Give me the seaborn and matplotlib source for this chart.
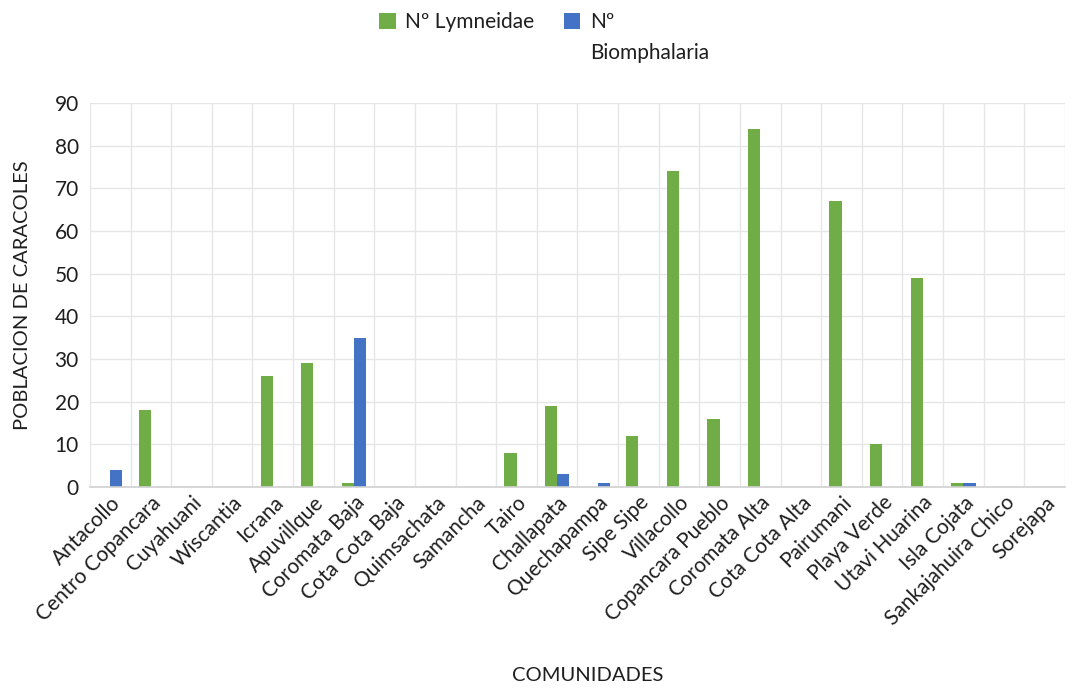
import matplotlib
matplotlib.use("Agg")
import matplotlib.pyplot as plt
import seaborn as sns
import pandas as pd
import numpy as np

comunidades = [
    "Antacollo", "Centro Copancara", "Cuyahuani", "Wiscantia", "Icrana",
    "Apuvillque", "Coromata Baja", "Cota Cota Baja", "Quimsachata", "Samancha",
    "Tairo", "Challapata", "Quechapampa", "Sipe Sipe", "Villacollo",
    "Copancara Pueblo", "Coromata Alta", "Cota Cota Alta", "Pairumani",
    "Playa Verde", "Utavi Huarina", "Isla Cojata", "Sankajahuira Chico", "Sorejapa",
]
lymneidae = [0, 18, 0, 0, 26, 29, 1, 0, 0, 0, 8, 19, 0, 12, 74, 16, 84, 0, 67, 10, 49, 1, 0, 0]
biomphalaria = [4, 0, 0, 0, 0, 0, 35, 0, 0, 0, 0, 3, 1, 0, 0, 0, 0, 0, 0, 0, 0, 1, 0, 0]
series_names = ["Nº Lymneidae", "Nº Biomphalaria"]
y_ticks = [0, 10, 20, 30, 40, 50, 60, 70, 80, 90]

df = pd.DataFrame({"Comunidad": comunidades,
                   series_names[0]: lymneidae,
                   series_names[1]: biomphalaria})
long = df.melt(id_vars="Comunidad", var_name="Serie", value_name="Valor")

sns.set_theme(style="white")
plt.rcParams["font.family"] = ["Lato", "DejaVu Sans"]
FS = 15
TXT = "#1f1f1f"

fig = plt.figure(figsize=(10.75, 6.9), dpi=100)
ax = fig.add_axes([0.0837, 0.2942, 0.9070, 0.5565])

palette = {series_names[0]: "#70AD47", series_names[1]: "#4472C4"}
sns.barplot(data=long, x="Comunidad", y="Valor", hue="Serie",
            hue_order=series_names, order=comunidades, palette=palette,
            width=0.6, linewidth=0, saturation=1, ax=ax, legend=True)

ax.set_ylim(0, 90)
ax.set_yticks(y_ticks)
ax.set_xlim(-0.5, len(comunidades) - 0.5)

# horizontal and category-boundary gridlines
ax.set_xticks(np.arange(-0.5, len(comunidades), 1.0), minor=True)
ax.grid(axis="y", which="major", color="#E6E6E6", linewidth=1)
ax.grid(axis="x", which="minor", color="#E6E6E6", linewidth=1)
ax.grid(axis="x", which="major", visible=False)
ax.set_axisbelow(True)

for side in ["top", "right", "left"]:
    ax.spines[side].set_visible(False)
ax.spines["bottom"].set_color("#D0D0D0")
ax.spines["bottom"].set_linewidth(1.2)
ax.tick_params(axis="both", which="both", length=0)
ax.tick_params(axis="y", labelsize=FS, pad=8, colors=TXT)
ax.tick_params(axis="x", labelsize=FS, pad=4, colors=TXT)
ax.set_xticks(range(len(comunidades)))
ax.set_xticklabels(comunidades, rotation=45, ha="right", rotation_mode="anchor")

ax.set_xlabel("COMUNIDADES", fontsize=14.5, color=TXT)
ax.xaxis.set_label_coords(0.51, -0.47)
ax.set_ylabel("POBLACION DE CARACOLES", fontsize=14.5, color=TXT)
ax.yaxis.set_label_coords(-0.061, 0.5)

# legend: the second entry wraps onto a second line under its first word
handles, _ = ax.get_legend_handles_labels()
ax.get_legend().remove()
first_words = ["Nº Lymneidae", "Nº"]
leg = fig.legend(handles, first_words, loc="upper center",
                 bbox_to_anchor=(0.462, 1.01), ncol=2, frameon=False, fontsize=FS,
                 handlelength=0.8, handleheight=0.8, handletextpad=0.45,
                 columnspacing=1.4, labelcolor=TXT)
fig.canvas.draw()
renderer = fig.canvas.get_renderer()
bb = leg.get_texts()[1].get_window_extent(renderer)
x0, y0 = fig.transFigure.inverted().transform((bb.x0, bb.y0))
fig.text(x0, y0 - 0.016, "Biomphalaria", fontsize=FS, color=TXT,
         ha="left", va="top")

fig.savefig("out.png", dpi=100)
